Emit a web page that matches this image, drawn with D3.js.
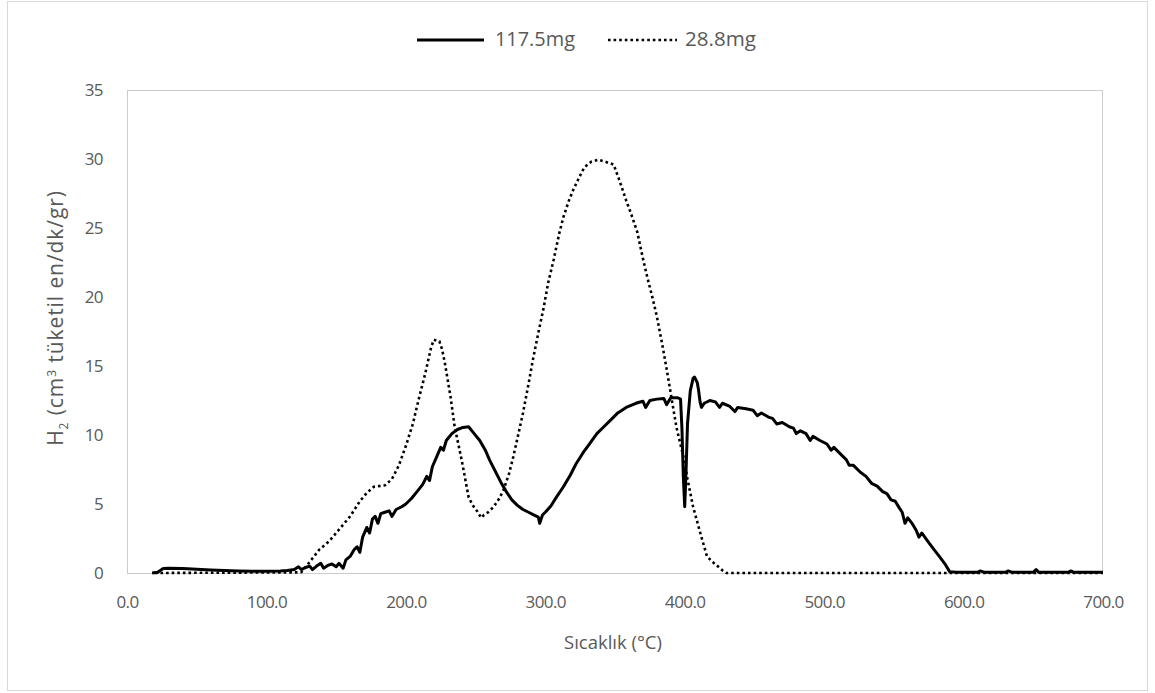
<!DOCTYPE html>
<html><head><meta charset="utf-8">
<script src="https://cdn.jsdelivr.net/npm/d3@7"></script>
<style>
html,body{margin:0;padding:0;background:#fff;}
text{font-family:"Open Sans",sans-serif;fill:#595959;}
</style></head>
<body><svg id="c" width="1155" height="693"></svg>
<script>
// Series 117.5mg (solid)
const tempA = [18,22,26,30,40,50,60,70,80,90,100,110,115,120,123,125,128,131,133,136,139,141,144,147,150,152,155,157,160,163,165,167,169,172,174,176,178,180,182,185,188,190,193,197,200,204,208,212,215,217,219,222,225,227,229,233,237,241,245,249,253,257,260,264,268,272,276,280,284,288,292,295,296,298,300,304,308,313,318,322,327,332,337,342,347,352,358,365,370,372,375,380,385,387,390,395,397,398,399,400,401,402,404,406,407,409,410,411,412,414,418,422,425,427,432,436,438,444,449,452,455,460,463,466,470,475,478,480,483,487,490,492,497,502,505,507,512,516,518,521,526,530,534,538,542,545,548,551,554,556,558,560,563,566,568,570,574,578,583,587,590,595,610,612,615,630,632,635,650,652,654,675,677,679,700];
const valA  = [0,0.05,0.32,0.34,0.33,0.28,0.22,0.18,0.15,0.13,0.12,0.14,0.18,0.25,0.45,0.25,0.4,0.5,0.25,0.5,0.7,0.35,0.55,0.65,0.45,0.7,0.35,0.95,1.2,1.7,1.9,1.5,2.6,3.3,2.9,3.9,4.1,3.6,4.3,4.4,4.5,4.1,4.6,4.8,5.0,5.4,5.9,6.4,7.0,6.7,7.7,8.4,9.1,8.9,9.6,10.1,10.4,10.55,10.6,10.1,9.6,8.9,8.2,7.4,6.6,5.9,5.3,4.9,4.6,4.4,4.2,4.05,3.6,4.2,4.4,4.85,5.5,6.25,7.1,7.9,8.7,9.4,10.1,10.6,11.1,11.6,12.0,12.3,12.45,12.0,12.5,12.6,12.65,12.2,12.7,12.7,12.6,10.5,7.0,4.8,7.5,10.8,13.2,14.1,14.2,13.8,13.2,12.4,12.0,12.3,12.5,12.4,12.0,12.3,12.1,11.7,12.0,11.9,11.8,11.4,11.6,11.3,11.2,10.8,10.9,10.6,10.5,10.1,10.3,10.1,9.6,9.9,9.6,9.35,8.9,9.1,8.6,8.2,7.8,7.8,7.3,7.0,6.5,6.3,5.9,5.75,5.3,5.2,4.7,4.4,3.6,4.0,3.6,3.1,2.6,2.9,2.35,1.8,1.15,0.6,0.1,0.05,0.05,0.15,0.05,0.05,0.15,0.05,0.05,0.25,0.05,0.05,0.15,0.05,0.05];
// Series 28.8mg (dotted)
const tempB = [20,125,131,138,145,150,155,160,167,172,177,185,190,195,200,205,209,214,218,220,224,226,228,232,235,240,245,248,251,254,256,259,263,267,270,274,277,281,284,288,291,295,299,302,306,310,313,317,320,324,328,333,338,343,349,353,358,362,366,370,373,377,380,384,387,391,394,397,400,402,404,406,409,412,416,420,423,427,430,700];
const valB  = [0,0.05,0.8,1.7,2.3,2.9,3.5,4.1,5.2,5.8,6.25,6.35,6.8,7.8,9.2,10.8,12.5,14.5,16.3,16.9,16.8,16.2,15.2,12.8,10.6,8.2,5.5,4.9,4.5,4.0,4.2,4.4,4.8,5.4,6.0,7.2,8.4,10.2,11.6,13.7,15.4,17.4,19.3,21.0,22.7,24.6,25.8,27.0,27.75,28.6,29.4,29.8,29.95,29.8,29.6,28.5,27.0,25.9,24.7,22.8,21.5,19.9,18.6,16.5,14.8,12.4,10.6,9.3,8.0,6.8,5.8,4.8,3.7,2.6,1.2,0.8,0.55,0.2,0,0];
const seriesNames = ["117.5mg","28.8mg"];
const xTicks = [0,100,200,300,400,500,600,700];
const yTicks = [0,5,10,15,20,25,30,35];

const svg = d3.select("#c");
const L=127,R=1103,T=90,B=573;
const x = d3.scaleLinear().domain([0,700]).range([L,R]);
const y = d3.scaleLinear().domain([0,35]).range([B,T]);

svg.append("rect").attr("x",7.5).attr("y",1.5).attr("width",1140).attr("height",689)
  .attr("fill","#fff").attr("stroke","#d9d9d9").attr("stroke-width",1);
svg.append("rect").attr("x",L+0.5).attr("y",T+0.5).attr("width",R-L-1).attr("height",B-T)
  .attr("fill","none").attr("stroke","#cdcdcd").attr("stroke-width",1);

const xAxis = svg.append("g").attr("transform",`translate(0,${B})`)
  .call(d3.axisBottom(x).tickValues(xTicks).tickSize(0).tickPadding(23).tickFormat(d3.format(".1f")));
xAxis.select(".domain").remove();
xAxis.selectAll("text").style("font-size","17px").attr("fill","#595959").attr("letter-spacing","-0.6");

const yAxis = svg.append("g").attr("transform",`translate(${L},0)`)
  .call(d3.axisLeft(y).tickValues(yTicks).tickSize(0).tickPadding(24).tickFormat(d3.format("d")));
yAxis.select(".domain").remove();
yAxis.selectAll("text").style("font-size","17px").attr("fill","#595959").attr("letter-spacing","-0.6");

const line = d3.line().x(d=>x(d[0])).y(d=>y(d[1]));
const dataA = tempA.map((t,i)=>[t,valA[i]]);
const dataB = tempB.map((t,i)=>[t,valB[i]]);
svg.append("path").datum(dataB).attr("d",line).attr("fill","none")
  .attr("stroke","#000").attr("stroke-width",2.6).attr("stroke-dasharray","2.6,3");
svg.append("path").datum(dataA).attr("d",line).attr("fill","none")
  .attr("stroke","#000").attr("stroke-width",3).attr("stroke-linejoin","round");

// fit helper: scale font so text reaches the reference width
function fit(sel, w){
  const n = sel.node(); let fs = parseFloat(sel.style("font-size"));
  const cur = n.getComputedTextLength();
  sel.style("font-size",(fs*w/cur).toFixed(2)+"px");
}

// axis titles
const xt = svg.append("text").attr("x",613).attr("y",649).attr("text-anchor","middle")
  .style("font-size","18px").text("Sıcaklık (°C)");
fit(xt,98);
const yt = svg.append("text").attr("transform","translate(63,318) rotate(-90)")
  .attr("text-anchor","middle").style("font-size","18px").attr("letter-spacing","0.9");
yt.append("tspan").text("H");
yt.append("tspan").attr("dy",5).style("font-size","12px").text("2");
yt.append("tspan").attr("dy",-5).text(" (cm");
yt.append("tspan").attr("dy",-7).style("font-size","12px").text("3");
yt.append("tspan").attr("dy",7).text(" tüketil en/dk/gr)");
fit(yt,262);

// legend
const lg = svg.append("g");
lg.append("line").attr("x1",417).attr("x2",484).attr("y1",40).attr("y2",40)
  .attr("stroke","#000").attr("stroke-width",3);
const l1 = lg.append("text").attr("x",495).attr("y",46).style("font-size","17px").text(seriesNames[0]);
fit(l1,80);
lg.append("line").attr("x1",608).attr("x2",677).attr("y1",40).attr("y2",40)
  .attr("stroke","#000").attr("stroke-width",2.6).attr("stroke-dasharray","2.6,3");
const l2 = lg.append("text").attr("x",685).attr("y",46).style("font-size","17px").text(seriesNames[1]);
fit(l2,71);
</script></body></html>
